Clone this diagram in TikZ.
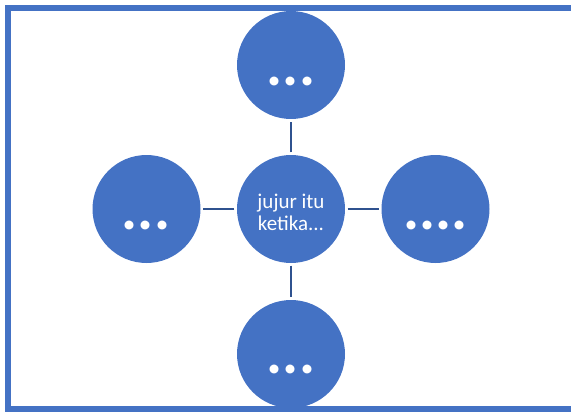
\documentclass[tikz,border=0pt]{standalone}
\usepackage{fontspec}
\setmainfont{Carlito}
\definecolor{accblue}{HTML}{4472C4}
\definecolor{linkblue}{HTML}{2F528F}
\tikzset{
  circ/.style={circle, fill=accblue, minimum size=108pt, inner sep=0pt},
  link/.style={draw=linkblue, line width=2.6pt, shorten <=2.5pt, shorten >=2.5pt},
  dotstext/.style={text=white, font=\fontsize{60}{60}\selectfont\bfseries, inner sep=0pt, anchor=base},
  frame/.style={draw=accblue, line width=6pt},
}
\begin{document}
\begin{tikzpicture}[x=1pt,y=-1pt]
\clip (0,0) rectangle (571,412);
\useasboundingbox (0,0) rectangle (571,412);
\node[circ] (c) at (291,209) {};
\node[circ] (t) at (291,65) {};
\node[circ] (b) at (291,354) {};
\node[circ] (l) at (146.5,209) {};
\node[circ] (r) at (435.5,209) {};
\node[text=white, font=\fontsize{21}{22}\selectfont, align=center, inner sep=0pt] (ctext) at (291,212) {jujur itu\\ketika...};
\node[dotstext] (tdots) at (291,85) {...};
\node[dotstext] (ldots) at (146,229) {...};
\node[dotstext] (rdots) at (435.5,229) {....};
\node[dotstext] (bdots) at (291,373) {...};
\draw[link] (c) -- (t);
\draw[link] (c) -- (b);
\draw[link] (c) -- (l);
\draw[link] (c) -- (r);
\draw[frame] (8,8) rectangle (590,409);
\end{tikzpicture}
\end{document}
